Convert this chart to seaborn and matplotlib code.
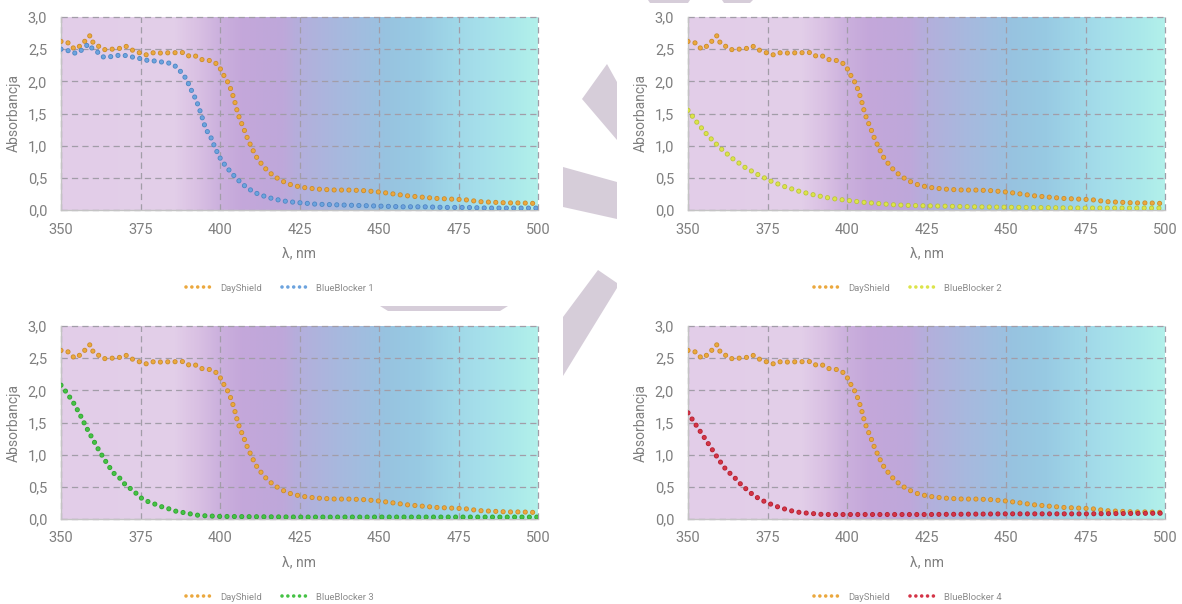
import numpy as np
import pandas as pd
import seaborn as sns
import matplotlib
matplotlib.use("Agg")
import matplotlib.pyplot as plt
from matplotlib.colors import LinearSegmentedColormap
from matplotlib.lines import Line2D
from matplotlib.patches import Polygon
from matplotlib.ticker import FuncFormatter

# ---------------- data ----------------
x_ticks = [350, 375, 400, 425, 450, 475, 500]
y_ticks = [0.0, 0.5, 1.0, 1.5, 2.0, 2.5, 3.0]

dayshield_nm = [350, 352, 353, 354.4, 356.3, 357.8, 359.1, 360.2, 361.7, 363.3, 364.9,
                366.7, 368.3, 370.3, 372, 373.8, 375.4, 377.3, 379.3, 381.1, 383, 384.9,
                386.8, 388.7, 390.3, 392.1, 393.9, 396.1, 397.9, 399.7, 400.7, 401.9, 403,
                403.8, 404.5, 405.6, 406.4, 407.3, 408.1, 408.9, 409.9, 410.9, 412, 413.5,
                414.9, 416.9, 418.8, 420.8, 423, 425.3, 427.5, 429.8, 432, 436.5, 441,
                445.5, 450, 454.5, 459, 463.5, 468, 472.5, 477, 481.5, 486, 490.4, 494.9, 500]
dayshield_abs = [2.62, 2.61, 2.55, 2.50, 2.56, 2.64, 2.71, 2.59, 2.55, 2.49, 2.50,
                 2.50, 2.51, 2.55, 2.49, 2.47, 2.42, 2.41, 2.45, 2.44, 2.44, 2.45,
                 2.44, 2.45, 2.39, 2.40, 2.34, 2.33, 2.31, 2.24, 2.13, 2.04, 1.93,
                 1.82, 1.71, 1.50, 1.39, 1.29, 1.18, 1.08, 0.98, 0.87, 0.78, 0.69,
                 0.61, 0.53, 0.47, 0.42, 0.38, 0.36, 0.34, 0.33, 0.32, 0.31, 0.31,
                 0.30, 0.28, 0.25, 0.22, 0.20, 0.18, 0.17, 0.16, 0.13, 0.12, 0.11, 0.11, 0.10]

bb1_nm = [350, 351.8, 353.4, 355.3, 356.8, 358.6, 360, 361.6, 363.2, 364.9, 366.7, 368.6,
          370.4, 372.2, 374.4, 376.5, 378.7, 380.7, 382.7, 384.6, 386.4, 388, 389.2, 390.3,
          391.2, 392.2, 393.1, 394, 395.2, 396.1, 397.2, 398.1, 399, 400, 401.1, 402.5,
          403.9, 405.4, 407.1, 409, 411, 412.9, 414.9, 417, 419.1, 421.3, 423.6, 425.8,
          428.1, 430.3, 437, 443.8, 450.6, 457.3, 464, 470.8, 477.5, 484.3, 491, 500]
bb1_abs = [2.50, 2.49, 2.44, 2.44, 2.50, 2.58, 2.50, 2.45, 2.38, 2.38, 2.39, 2.41,
           2.40, 2.38, 2.36, 2.33, 2.32, 2.31, 2.29, 2.28, 2.22, 2.13, 2.05, 1.94,
           1.84, 1.74, 1.63, 1.50, 1.31, 1.21, 1.12, 1.01, 0.91, 0.81, 0.73, 0.64,
           0.56, 0.48, 0.40, 0.33, 0.27, 0.23, 0.20, 0.17, 0.15, 0.13, 0.12, 0.11,
           0.10, 0.09, 0.08, 0.07, 0.06, 0.05, 0.05, 0.04, 0.04, 0.03, 0.03, 0.03]

bb2_nm = [350, 353, 356, 360, 364, 368, 372, 376, 380, 385, 390, 395, 400, 405, 410,
          415, 420, 430, 440, 455, 475, 500]
bb2_abs = [1.55, 1.35, 1.17, 0.97, 0.80, 0.66, 0.55, 0.45, 0.37, 0.29, 0.23, 0.18, 0.15,
           0.12, 0.10, 0.08, 0.07, 0.06, 0.05, 0.04, 0.03, 0.03]

bb3_nm = [350, 352, 354, 356, 358, 360, 362, 364, 366.4, 368.6, 370.1, 371.9, 373.6,
          375.4, 377.4, 379.6, 381.7, 383.8, 386.2, 388.5, 390.6, 392.9, 395.3, 400,
          425, 450, 475, 500]
bb3_abs = [2.08, 1.95, 1.80, 1.62, 1.42, 1.24, 1.06, 0.90, 0.72, 0.63, 0.54, 0.47, 0.40,
           0.32, 0.27, 0.23, 0.19, 0.16, 0.12, 0.10, 0.08, 0.06, 0.05, 0.04,
           0.03, 0.03, 0.03, 0.03]

bb4_nm = [350, 352, 354, 356, 358, 360, 362.2, 364.2, 365.8, 367.4, 369, 370.5, 372.6,
          374.5, 376.6, 378.7, 380.8, 383.1, 385.4, 387.8, 390.3, 392.5, 400, 425, 450,
          475, 500]
bb4_abs = [1.65, 1.50, 1.35, 1.20, 1.05, 0.90, 0.75, 0.67, 0.58, 0.50, 0.44, 0.37, 0.31,
           0.26, 0.22, 0.18, 0.15, 0.12, 0.10, 0.09, 0.08, 0.07, 0.07, 0.07, 0.08,
           0.08, 0.09]

series_names = ["BlueBlocker 1", "BlueBlocker 2", "BlueBlocker 3", "BlueBlocker 4"]
series_x = [bb1_nm, bb2_nm, bb3_nm, bb4_nm]
series_y = [bb1_abs, bb2_abs, bb3_abs, bb4_abs]

# ---------------- style ----------------
sns.set_theme(style="white")
plt.rcParams["font.family"] = ["Roboto", "DejaVu Sans"]
plt.rcParams["lines.scale_dashes"] = False

W, H = 1182, 604
fig = plt.figure(figsize=(W / 100, H / 100), dpi=100)
fig.patch.set_facecolor("white")

# background logo fragments (visible in the gaps between panels)
logo_color = "#D6CDD9"
logo_shapes = [
    [(607, 64), (582, 99), (617, 140), (617, 82)],
    [(563, 167), (617, 182), (617, 219), (563, 207)],
    [(598, 270), (617, 283), (617, 288), (563, 376), (563, 317)],
    [(380, 306), (508, 306), (500, 311), (388, 311)],
    [(648, 0), (690, 0), (688, 3), (650, 3)],
    [(722, 0), (753, 0), (750, 3), (724, 3)],
]
for pts in logo_shapes:
    arr = np.array([(px / W, 1 - py / H) for px, py in pts])
    fig.add_artist(Polygon(arr, closed=True, transform=fig.transFigure,
                           facecolor=logo_color, edgecolor="none", zorder=0))

bg_stops = [
    (350, "#E2CDE8"), (385, "#E3CFE9"), (393, "#D9C0E3"), (400, "#CBB0DD"),
    (407, "#C4A7DA"), (420, "#BEA8DA"), (425, "#B4AFDC"), (437, "#A8B8DE"),
    (449, "#9DC0E0"), (452, "#97C3E0"), (463, "#98CAE3"), (472, "#9ED5E7"),
    (480, "#A4DDEA"), (492, "#AAE8EB"), (500, "#B2F0EA"),
]
bg_cmap = LinearSegmentedColormap.from_list(
    "bg", [((nm - 350) / 150, c) for nm, c in bg_stops])
grad = np.linspace(0, 1, 600).reshape(1, -1)

colors = {
    "DayShield": ("#C98A2B", "#EBA83E"),
    "BlueBlocker 1": ("#4C84C2", "#6CA3DE"),
    "BlueBlocker 2": ("#B9C23A", "#DCE44A"),
    "BlueBlocker 3": ("#2FA32F", "#45C245"),
    "BlueBlocker 4": ("#B3202F", "#D43447"),
}
DOT = (0, (0.01, 5.3))
text_grey = "#7F7F7F"

panel_left = [61, 688, 61, 688]
panel_top = [17, 17, 326, 326]
pw, ph = 477, 193
legend_cx = [0.459, 0.461, 0.459, 0.461]


def draw_dotted(ax, x, y, name):
    edge, face = colors[name]
    sns.lineplot(x=x, y=y, ax=ax, color=edge, linewidth=3.7, linestyle=DOT,
                 dash_capstyle="round", sort=False, estimator=None, legend=False,
                 zorder=3)
    sns.lineplot(x=x, y=y, ax=ax, color=face, linewidth=2.6, linestyle=DOT,
                 dash_capstyle="round", sort=False, estimator=None, legend=False,
                 zorder=3)


for i in range(4):
    l, t = panel_left[i], panel_top[i]
    ax = fig.add_axes([l / W, 1 - (t + ph) / H, pw / W, ph / H])
    ax.imshow(grad, extent=[350, 500, 0, 3], aspect="auto", cmap=bg_cmap,
              interpolation="bilinear", zorder=0)
    draw_dotted(ax, dayshield_nm, dayshield_abs, "DayShield")
    draw_dotted(ax, series_x[i], series_y[i], series_names[i])

    ax.set_xlim(350, 500)
    ax.set_ylim(0, 3)
    ax.set_xticks(x_ticks)
    ax.set_yticks(y_ticks)
    ax.yaxis.set_major_formatter(FuncFormatter(lambda v, _: f"{v:.1f}".replace(".", ",")))
    ax.set_axisbelow(True)
    ax.grid(True, color="#A29DA8", linestyle=(0, (4.5, 3)), linewidth=0.9)
    for g in ax.get_xgridlines() + ax.get_ygridlines():
        g.set_clip_on(False)
    for s in ["top", "right"]:
        ax.spines[s].set_visible(False)
    for s in ["left", "bottom"]:
        ax.spines[s].set_color("#C4C4C4")
        ax.spines[s].set_linewidth(1.0)
    ax.tick_params(axis="both", length=0, labelsize=10.5, labelcolor=text_grey)
    ax.tick_params(axis="x", pad=9)
    ax.tick_params(axis="y", pad=10)
    ax.set_xlabel("λ, nm", fontsize=10, color=text_grey, labelpad=7)
    ax.set_ylabel("Absorbancja", fontsize=10, color=text_grey, labelpad=5)

    handles = [
        Line2D([], [], color=colors["DayShield"][1], linewidth=2.6, linestyle=(0, (0.01, 4.2)),
               dash_capstyle="round"),
        Line2D([], [], color=colors[series_names[i]][1], linewidth=2.6,
               linestyle=(0, (0.01, 4.2)), dash_capstyle="round"),
    ]
    leg = ax.legend(handles, ["DayShield", series_names[i]], loc="center",
                    bbox_to_anchor=(legend_cx[i], -0.405), ncol=2, frameon=False,
                    fontsize=6.8, handlelength=3.0, handletextpad=0.6,
                    columnspacing=2.2)
    for txt in leg.get_texts():
        txt.set_color("#8C8C8C")

fig.savefig("out.png", dpi=100, facecolor="white")
